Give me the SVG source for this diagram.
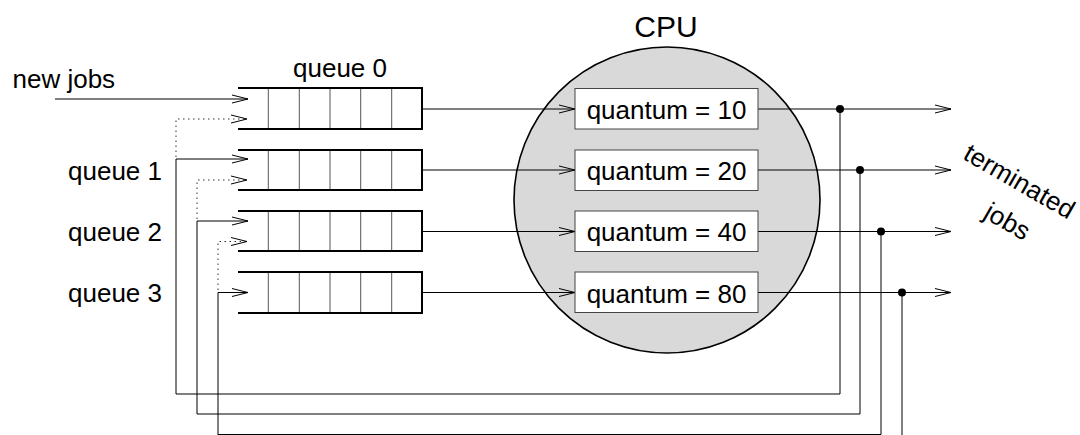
<svg xmlns="http://www.w3.org/2000/svg" width="1080" height="435" viewBox="0 0 1080 435">
<defs>
<marker id="arr" markerUnits="userSpaceOnUse" markerWidth="18" markerHeight="10" refX="16" refY="4" orient="auto" overflow="visible">
<path d="M0,0 L16,4 L0,8" fill="none" stroke="#000" stroke-width="1"/>
</marker>
<style>
text{font-family:"Liberation Sans",Arial,sans-serif;font-size:26px;fill:#000}
.ln{fill:none;stroke:#000;stroke-width:1}
.dot{fill:none;stroke:#333;stroke-width:1;stroke-dasharray:1.5 3.5}
.qb{fill:none;stroke:#000;stroke-width:2}
.cell{stroke:#555;stroke-width:1}
.qt{fill:#fff;stroke:#444;stroke-width:1}
</style>
</defs>
<rect width="1080" height="435" fill="#fff"/>
<g id="cpu">
<circle cx="667" cy="200" r="153" fill="#d9d9d9" stroke="#000" stroke-width="1.6"/>
<text x="666" y="36.5" text-anchor="middle" style="font-size:30px">CPU</text>
</g>
<g id="connectors">
<path class="ln" d="M55,99 H248" marker-end="url(#arr)"/>
<path class="dot" d="M176,157 V119 H247" marker-end="url(#arr)"/>
<path class="ln" d="M840,109 V394 H176 V159 H248" marker-end="url(#arr)"/>
<path class="dot" d="M197,219 V180 H247" marker-end="url(#arr)"/>
<path class="ln" d="M860,170 V414 H197 V221 H248" marker-end="url(#arr)"/>
<path class="dot" d="M218,290 V241.5 H247" marker-end="url(#arr)"/>
<path class="ln" d="M881,231.5 V434.5 H218 V292.5 H248" marker-end="url(#arr)"/>
<path class="ln" d="M218,434.5 V440"/>
<path class="ln" d="M902,292.5 V440"/>
<path class="ln" d="M422,109 H575" marker-end="url(#arr)"/>
<path class="ln" d="M422,170 H575" marker-end="url(#arr)"/>
<path class="ln" d="M422,231.5 H575" marker-end="url(#arr)"/>
<path class="ln" d="M422,292.5 H575" marker-end="url(#arr)"/>
<path class="ln" d="M758,109 H951" marker-end="url(#arr)"/>
<path class="ln" d="M758,170 H951" marker-end="url(#arr)"/>
<path class="ln" d="M758,231.5 H951" marker-end="url(#arr)"/>
<path class="ln" d="M758,292.5 H951" marker-end="url(#arr)"/>
<circle cx="840" cy="109" r="4"/>
<circle cx="860" cy="170" r="4"/>
<circle cx="881" cy="231.5" r="4"/>
<circle cx="902" cy="292.5" r="4"/>
</g>
<g id="queue0">
<path class="cell" d="M268.3,88V129M299.3,88V129M330,88V129M360.7,88V129M391.7,88V129"/>
<path class="qb" d="M238,88 H422 V129 H238"/>
<text x="340" y="77" text-anchor="middle">queue 0</text>
</g>
<g id="queue1">
<path class="cell" d="M268.3,150V190M299.3,150V190M330,150V190M360.7,150V190M391.7,150V190"/>
<path class="qb" d="M238,150 H422 V190 H238"/>
<text x="162" y="179.5" text-anchor="end">queue 1</text>
</g>
<g id="queue2">
<path class="cell" d="M268.3,211V251M299.3,211V251M330,211V251M360.7,211V251M391.7,211V251"/>
<path class="qb" d="M238,211 H422 V251 H238"/>
<text x="162" y="240.5" text-anchor="end">queue 2</text>
</g>
<g id="queue3">
<path class="cell" d="M268.3,272V313M299.3,272V313M330,272V313M360.7,272V313M391.7,272V313"/>
<path class="qb" d="M238,272 H422 V313 H238"/>
<text x="162" y="301.5" text-anchor="end">queue 3</text>
</g>
<g id="quantum10"><rect class="qt" x="575" y="88.5" width="183" height="40.5"/><text x="666.5" y="119" text-anchor="middle">quantum = 10</text></g>
<g id="quantum20"><rect class="qt" x="575" y="150" width="183" height="40.5"/><text x="666.5" y="180" text-anchor="middle">quantum = 20</text></g>
<g id="quantum40"><rect class="qt" x="575" y="211" width="183" height="40.5"/><text x="666.5" y="241" text-anchor="middle">quantum = 40</text></g>
<g id="quantum80"><rect class="qt" x="575" y="272" width="183" height="40.5"/><text x="666.5" y="302.5" text-anchor="middle">quantum = 80</text></g>
<g id="labels">
<text x="12.5" y="88">new jobs</text>
<text transform="translate(1015,189) rotate(30)" text-anchor="middle">terminated</text>
<text transform="translate(1003,229) rotate(30)" text-anchor="middle">jobs</text>
</g>
</svg>
